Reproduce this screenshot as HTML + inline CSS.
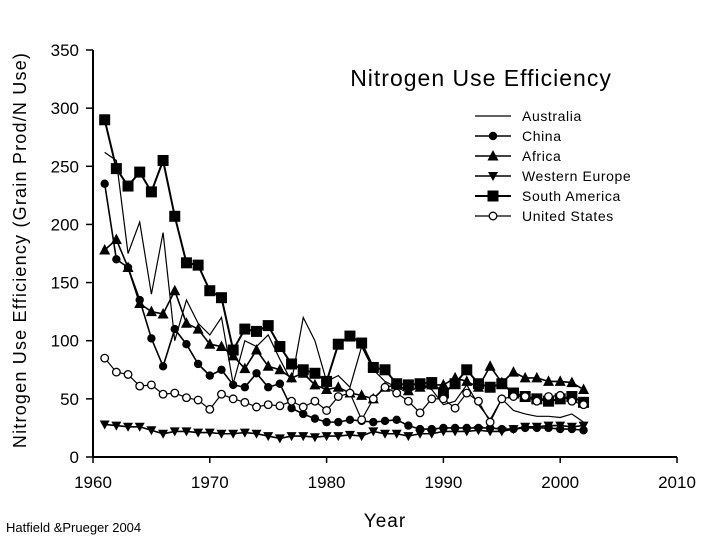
<!DOCTYPE html>
<html><head><meta charset="utf-8"><style>
body{margin:0;background:#fff;}
svg text{font-family:"Liberation Sans",sans-serif;fill:#000;}
</style></head><body>
<svg width="720" height="540" viewBox="0 0 720 540">
<g id="axes"></g><g id="series"></g>
<text x="481" y="86" font-size="23" letter-spacing="1" text-anchor="middle">Nitrogen Use Efficiency</text>
<text transform="translate(26,250) rotate(-90)" font-size="18" letter-spacing="1.2" text-anchor="middle">Nitrogen Use Efficiency (Grain Prod/N Use)</text>
<text x="385" y="527" font-size="19" letter-spacing="1" text-anchor="middle">Year</text>
<text x="6" y="532" font-size="13">Hatfield &amp;Prueger 2004</text>
<g id="legend"></g>
</svg>
<script>
const years=[];for(let y=1961;y<=2002;y++)years.push(y);
const australia=[262,255,175,202,140,193,100,135,115,105,120,63,100,95,105,84,65,120,100,65,70,60,95,75,65,60,55,62,58,45,48,62,45,32,50,40,37,35,35,34,37,30];
const china=[235,170,163,135,102,78,110,97,80,70,75,62,60,72,60,63,42,37,33,30,30,32,31,30,31,32,27,24,24,25,25,25,25,25,24,24,25,25,25,24,24,23];
const africa=[178,187,163,132,125,123,143,115,110,97,95,87,76,92,78,75,68,72,62,58,60,55,53,50,60,62,57,60,62,62,68,65,60,78,64,73,68,68,65,65,64,58];
const westernEurope=[28,27,26,26,23,20,22,22,21,21,20,20,21,20,18,16,18,18,17,18,18,19,18,22,20,20,18,20,20,22,22,22,23,22,22,24,26,26,27,27,26,27];
const southAmerica=[290,248,233,245,228,255,207,167,165,143,137,92,110,108,113,95,80,75,72,65,97,104,98,77,75,63,62,63,64,55,63,75,63,60,63,55,52,50,48,50,52,47];
const unitedStates=[85,73,71,61,62,54,55,51,49,41,54,50,47,43,45,44,48,43,48,40,52,55,32,50,60,55,48,38,50,50,42,55,48,30,50,52,52,48,52,53,48,45];
const yTicks=[0,50,100,150,200,250,300,350];
const xTicks=[1960,1970,1980,1990,2000,2010];
const NS="http://www.w3.org/2000/svg";
const X=v=>93+(v-1960)*(584/50), Y=v=>457-v*(407/350);
function el(t,a,p){const e=document.createElementNS(NS,t);for(const k in a)e.setAttribute(k,a[k]);p.appendChild(e);return e;}
const ax=document.getElementById('axes');
let l=el('line',{x1:93,y1:50,x2:93,y2:457,stroke:'#000','stroke-width':2},ax);


l=el('line',{x1:93,y1:457,x2:677,y2:457,stroke:'#000','stroke-width':2},ax);


yTicks.forEach(v=>{el('line',{x1:86,x2:93,y1:Y(v),y2:Y(v),stroke:'#000','stroke-width':1.5},ax);
const t=el('text',{x:79,y:Y(v)+6,'font-size':17,'text-anchor':'end'},ax);t.textContent=v;

});
xTicks.forEach(v=>{el('line',{x1:X(v),x2:X(v),y1:457,y2:463,stroke:'#000','stroke-width':1.5},ax);
const t=el('text',{x:X(v),y:488,'font-size':17,'text-anchor':'middle'},ax);t.textContent=v;

});
function marker(type,x,y,p){
 if(type==='circle')return el('circle',{cx:x,cy:y,r:4.2,fill:'#000'},p);
 if(type==='ocircle')return el('circle',{cx:x,cy:y,r:3.8,fill:'#fff',stroke:'#000','stroke-width':1.3},p);
 if(type==='square')return el('rect',{x:x-5.5,y:y-5.5,width:11,height:11,fill:'#000'},p);
 if(type==='tri')return el('polygon',{points:`${x},${y-6} ${x-5.5},${y+4.5} ${x+5.5},${y+4.5}`,fill:'#000'},p);
 if(type==='dtri')return el('polygon',{points:`${x},${y+5} ${x-5},${y-4} ${x+5},${y-4}`,fill:'#000'},p);
 return null;}
const series=[
 {name:'Australia',d:australia,m:null,w:1.2,key:'australia'},
 {name:'China',d:china,m:'circle',w:1.6,key:'china'},
 {name:'Africa',d:africa,m:'tri',w:1.6,key:'africa'},
 {name:'Western Europe',d:westernEurope,m:'dtri',w:1.6,key:'western-europe'},
 {name:'South America',d:southAmerica,m:'square',w:2,key:'south-america'},
 {name:'United States',d:unitedStates,m:'ocircle',w:1.2,key:'united-states'}];
const sg=document.getElementById('series'),lg=document.getElementById('legend');
series.forEach((s,i)=>{
 const g=el('g',{},sg);
 
 
 el('polyline',{points:s.d.map((v,j)=>X(years[j])+','+Y(v)).join(' '),fill:'none',stroke:'#000','stroke-width':s.w},g);
 if(s.m)s.d.forEach((v,j)=>{const m=marker(s.m,X(years[j]),Y(v),g);
  
  });
 const ly=116+i*20;
 const e=el('g',{},lg);
 
 
 el('line',{x1:475,x2:511,y1:ly,y2:ly,stroke:'#000','stroke-width':s.w},e);
 if(s.m)marker(s.m,493,ly,e);
 const t=el('text',{x:522,y:ly+5,'font-size':14,'letter-spacing':'0.6'},e);t.textContent=s.name;
});
</script>
</body></html>
